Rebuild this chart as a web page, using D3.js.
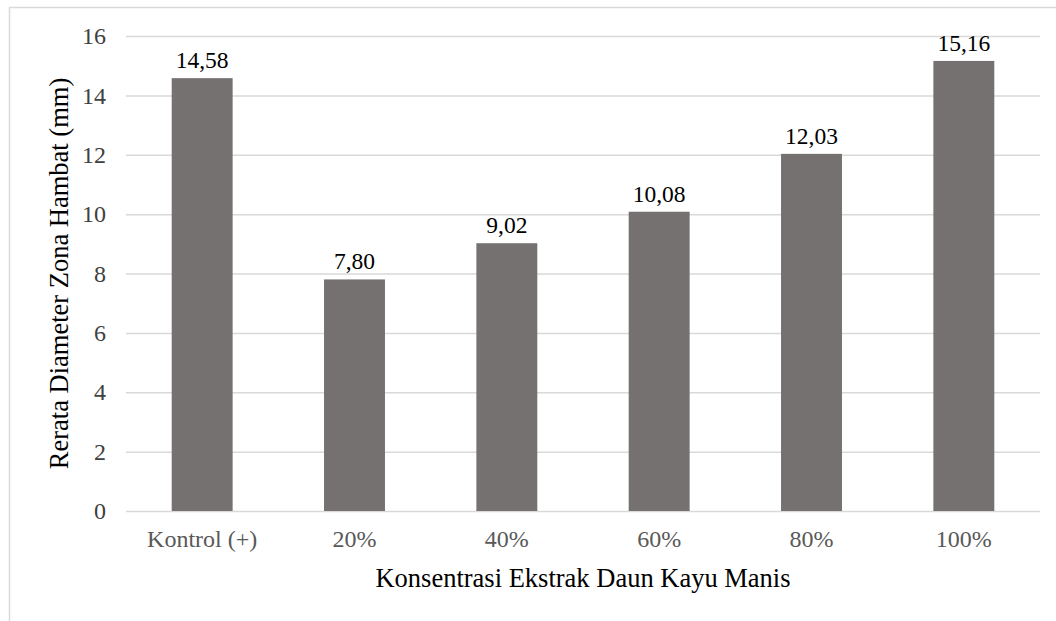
<!DOCTYPE html>
<html>
<head>
<meta charset="utf-8">
<script src="https://cdn.jsdelivr.net/npm/d3@7"></script>
<style>
  body { margin: 0; background: #fff; }
</style>
</head>
<body>
<div id="chart"></div>
<script>
// data
const categories = ["Kontrol (+)", "20%", "40%", "60%", "80%", "100%"];
const values = [14.58, 7.80, 9.02, 10.08, 12.03, 15.16];
const yTicks = [0, 2, 4, 6, 8, 10, 12, 14, 16];

const xTitle = "Konsentrasi Ekstrak Daun Kayu Manis";
const yTitle = "Rerata Diameter Zona Hambat (mm)";

const font = '"Liberation Serif"';

window.addEventListener("load", main);

function main(){
  let [svgWidth, svgHeight] = [1056, 621];
  let plot = {left: 126, right: 1040, top: 36, bottom: 511};

  let svg = d3.select('#chart').append('svg')
    .attr('width', svgWidth)
    .attr('height', svgHeight)
    .attr('font-family', font);

  // outer chart border (runs off the right / bottom edge)
  svg.append('rect')
    .attr('x', 9.5).attr('y', 7.5)
    .attr('width', svgWidth).attr('height', svgHeight)
    .attr('fill', 'none')
    .attr('stroke', '#d9d9d9')
    .attr('stroke-width', 1.5);

  let xsc = d3.scaleBand()
    .domain(categories)
    .range([plot.left, plot.right])
    .paddingInner(0.6)
    .paddingOuter(0.3);

  let ysc = d3.scaleLinear()
    .domain([0, 16])
    .range([plot.bottom, plot.top]);

  // gridlines + y labels
  let yAx = svg.append('g')
    .attr('transform', `translate(${plot.left},0)`)
    .call(d3.axisLeft(ysc).tickValues(yTicks).tickSize(-(plot.right - plot.left)).tickPadding(20).tickFormat(d3.format('d')));
  yAx.attr('font-family', font).attr('font-size', 24);
  yAx.select('.domain').remove();
  yAx.selectAll('line').attr('stroke', '#d9d9d9').attr('stroke-width', 1.5);
  yAx.selectAll('text')
    .attr('font-family', font)
    .attr('font-size', 24)
    .attr('fill', '#404040');

  // x labels
  let xAx = svg.append('g')
    .attr('transform', `translate(0,${plot.bottom})`)
    .call(d3.axisBottom(xsc).tickSize(0).tickPadding(19));
  xAx.attr('font-family', font).attr('font-size', 24);
  xAx.select('.domain').remove();
  xAx.selectAll('text')
    .attr('font-family', font)
    .attr('font-size', 24)
    .attr('fill', '#595959');

  // bars
  svg.append('g').selectAll('rect')
    .data(values)
    .join('rect')
      .attr('x', (d, i) => xsc(categories[i]))
      .attr('y', d => ysc(d))
      .attr('width', xsc.bandwidth())
      .attr('height', d => ysc(0) - ysc(d))
      .attr('fill', '#767171');

  // value labels
  svg.append('g').selectAll('text')
    .data(values)
    .join('text')
      .attr('x', (d, i) => xsc(categories[i]) + xsc.bandwidth() / 2)
      .attr('y', d => ysc(d) - 10)
      .attr('text-anchor', 'middle')
      .attr('font-family', font)
      .attr('font-size', 23.5)
      .attr('fill', '#000')
      .text(d => d.toFixed(2).replace('.', ','));

  // axis titles
  svg.append('text')
    .attr('x', (plot.left + plot.right) / 2)
    .attr('y', 587)
    .attr('text-anchor', 'middle')
    .attr('font-family', font)
    .attr('font-size', 26.5)
    .text(xTitle);

  svg.append('text')
    .attr('transform', `translate(68,${(plot.top + plot.bottom) / 2}) rotate(-90)`)
    .attr('text-anchor', 'middle')
    .attr('font-family', font)
    .attr('font-size', 26.5)
    .text(yTitle);
}
</script>
</body>
</html>
